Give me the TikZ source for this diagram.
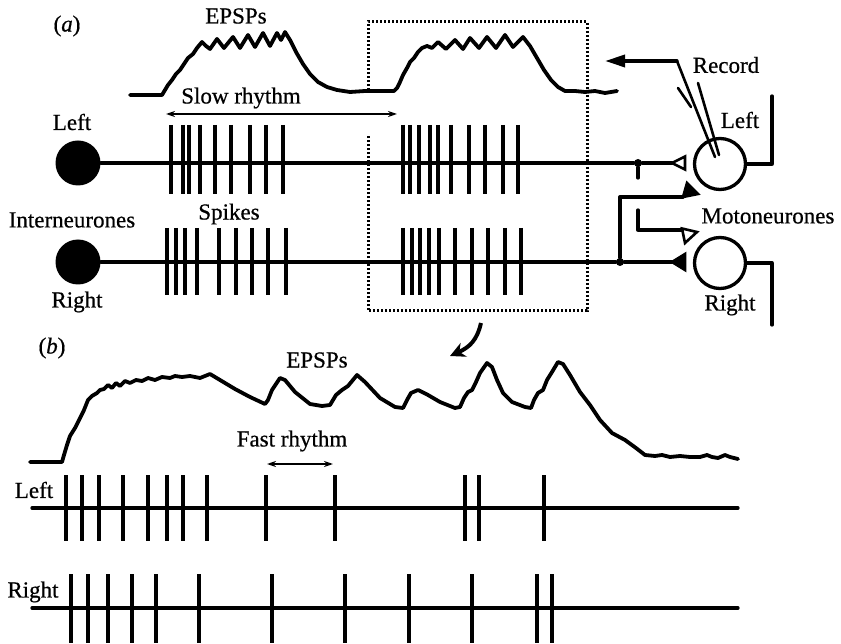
\documentclass[tikz,border=0pt]{standalone}
\usepackage{fontspec}
\setmainfont{Liberation Serif}[FakeBold=0.6]
\usetikzlibrary{arrows.meta}
\begin{document}
\begin{tikzpicture}[x=1pt,y=-1pt,
  lbl/.style={font=\fontsize{23}{27}\selectfont, inner sep=0pt},
  wire/.style={line width=3.3pt, line cap=round, line join=round},
  spk/.style={line width=3.1pt},
  trace/.style={line width=3.8pt, line join=round, line cap=round},
  thinarrow/.style={line width=1.6pt, {Stealth[length=9pt,width=6pt]}-{Stealth[length=9pt,width=6pt]}},
  dotbox/.style={line width=3pt, dash pattern=on 1.8pt off 2.2pt},
  inter/.style={circle, fill=black, minimum size=45pt, inner sep=0pt},
  moto/.style={circle, draw=black, line width=3.3pt, minimum size=51pt, inner sep=0pt},
  junc/.style={circle, fill=black, minimum size=8pt, inner sep=0pt},
  syn/.style={line width=2.6pt, line join=miter},
]
\useasboundingbox (0,0) rectangle (841,644);

% ---------- (a) ----------
\node[lbl] (la) at (67,26) {(\textit{a})};
\node[lbl] (epspa) at (236,16) {EPSPs};
\node[lbl] (slow) at (241,98) {Slow rhythm};
\node[lbl] (leftI) at (72,122) {Left};
\node[lbl] (interI) at (72,220) {Interneurones};
\node[lbl] (rightI) at (77,302) {Right};
\node[lbl] (spikes) at (229,214) {Spikes};
\node[lbl] (record) at (726,65) {Record};
\node[lbl] (leftM) at (740,120) {Left};
\node[lbl] (motoM) at (768,216) {Motoneurones};
\node[lbl] (rightM) at (730,305) {Right};

% EPSP trace (a)
\draw[trace] plot coordinates {(130,95) (162,95) (165,90) (168,85) (172,80) (176,74) (180,70) (184,64) (188,58) (193,54) (197,48) (202,42) (206,46) (210,49) (217,39) (224,48) (233,37) (240,48) (248,35) (255,47) (263,33) (270,46) (277,33) (281,40) (285,32) (290,40) (296,52) (303,64) (310,74) (318,82) (327,87) (337,90) (350,92) (365,91) (380,91) (394,91)
 (397,88) (400,82) (403,75) (407,68) (410,62) (414,58) (418,52) (422,48) (427,46) (432,48) (438,42) (446,49) (455,40) (463,49) (470,38) (479,48) (487,37) (496,48) (505,35) (513,47) (523,37) (530,46) (537,58) (544,70) (551,80) (558,87) (565,91) (575,91) (585,92) (595,91) (605,93) (617,91)};

% slow rhythm arrow
\coordinate (sa1) at (166,114);
\coordinate (sa2) at (397,114);
\draw[thinarrow] (sa1) -- (sa2);

% dotted box
\draw[dotbox] (368,90) -- (368,22) -- (587,22) -- (587,311) -- (368,311) -- (368,135);

% neurones
\node[inter] (IL) at (78,163) {};
\node[inter] (IR) at (78,262) {};
\node[moto] (ML) at (720,164) {};
\node[moto] (MR) at (720,263) {};
\node[junc] (jL) at (638,163) {};
\node[junc] (jR) at (620,262) {};
\coordinate (tL) at (672,163);
\coordinate (tR) at (672,262);

\draw[wire] (IL) -- (jL) -- (tL);
\draw[wire] (IR) -- (jR) -- (tR);

% synapses
\draw[syn, fill=white] (672,163) -- (685,156.5) -- (685,169.5) -- cycle;
\draw[syn, fill=black] (672,262) -- (685,254) -- (685,270) -- cycle;

% crossed branches
\coordinate (bR1) at (620,197);
\coordinate (bR2) at (683,197);
\draw[wire] (jR) -- (bR1) -- (bR2);
\draw[syn, fill=black] (683,197) -- (687,183) -- (698,194) -- cycle;

\coordinate (bL0) at (638,178);
\coordinate (bL1) at (638,210);
\coordinate (bL2) at (638,230);
\coordinate (bL3) at (683,230);
\draw[wire] (jL) -- (bL0);
\draw[wire] (bL1) -- (bL2) -- (bL3);
\draw[syn, fill=white] (682,228.5) -- (697,232) -- (685,243) -- cycle;

% motoneurone axons
\coordinate (aL1) at (772,164);
\coordinate (aL2) at (772,96);
\coordinate (aR1) at (772,263);
\coordinate (aR2) at (772,325);
\draw[wire] (ML.east) -- (aL1) -- (aL2);
\draw[wire] (MR.east) -- (aR1) -- (aR2);

% recording electrode
\coordinate (rec) at (677,61);
\coordinate (recT) at (605,61);
\draw[wire, -{Triangle[length=20pt,width=12pt]}] (rec) -- (recT);
\draw[wire, line width=2.6pt] (rec) -- (715,157);
\draw[wire, line width=2.6pt] (698,83) -- (719,155);
\draw[wire, line width=2.6pt] (678,88) -- (691,107);

% spikes (a)
\foreach \x in {171,183,189,200,215,231,250,266,283,403,410,419,430,438,451,469,485,503,518}
  \draw[spk] (\x,125) -- (\x,194);
\foreach \x in {167,176,185,197,219,236,252,268,286,403,412,420,429,439,455,472,488,505,521}
  \draw[spk] (\x,228) -- (\x,295);

% zoom arrow
\coordinate (za1) at (481,323);
\coordinate (za2) at (450,356);
\draw[line width=4pt, -{Stealth[length=15pt,width=15pt]}] (za1) .. controls (477,340) and (470,347) .. (za2);

% ---------- (b) ----------
\node[lbl] (lb) at (52,348) {(\textit{b})};
\node[lbl] (epspb) at (317,360) {EPSPs};
\node[lbl] (fast) at (292,441) {Fast rhythm};
\node[lbl] (leftB) at (34,490) {Left};
\node[lbl] (rightB) at (33,592) {Right};

\draw[trace] plot coordinates {(30,462) (62,462) (64,455) (67,445) (70,436) (75,428) (80,418) (84,410) (88,400) (92,396) (97,393) (100,390) (104,389) (108,385) (112,388) (116,383) (120,386) (125,381) (130,383) (136,380) (142,381) (148,378) (155,380) (162,377) (170,378) (175,376) (182,377) (190,376) (200,378) (205,376) (210,374) (220,380) (235,389) (250,397) (265,404) (268,400) (272,390) (280,378) (285,380) (295,392) (310,404) (322,406) (330,405) (336,395) (342,390) (348,386) (357,375) (365,382) (380,398) (395,407) (403,408) (407,400) (411,393) (418,390) (428,395) (440,402) (455,408) (460,407) (464,398) (468,392) (472,390) (476,382) (480,373) (487,363) (492,367) (497,380) (503,393) (512,402) (525,407) (531,408) (534,400) (538,393) (543,390) (547,380) (552,372) (558,362) (563,364) (570,375) (580,392) (590,405) (600,420) (612,433) (625,440) (636,448) (645,455) (655,456) (662,455) (670,457) (680,456) (690,457) (700,457) (707,455) (712,457) (718,458) (725,455) (730,457) (738,459)};

\coordinate (fa1) at (267,464);
\coordinate (fa2) at (333,464);
\draw[thinarrow] (fa1) -- (fa2);

\coordinate (lbS) at (32,508);
\coordinate (lbE) at (738,508);
\coordinate (rbS) at (32,608);
\coordinate (rbE) at (738,608);
\draw[wire] (lbS) -- (lbE);
\draw[wire] (rbS) -- (rbE);
\foreach \x in {66,82,99,123,148,167,183,207,266,335,465,479,544}
  \draw[spk] (\x,475) -- (\x,541);
\foreach \x in {71,88,108,132,156,199,272,345,409,472,537,552}
  \draw[spk] (\x,574) -- (\x,643);
\end{tikzpicture}
\end{document}
